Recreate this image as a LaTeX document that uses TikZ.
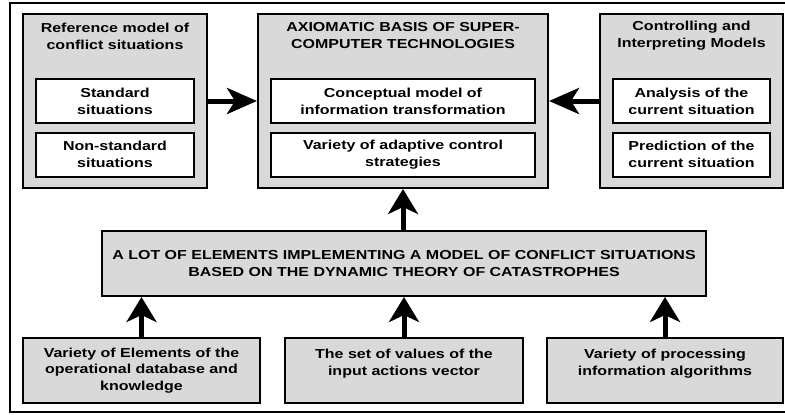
\documentclass[tikz,border=0pt]{standalone}
\usepackage{fontspec}
\setmainfont{Liberation Sans}[FakeStretch=1.23]
\usetikzlibrary{arrows.meta}

\begin{document}
\begin{tikzpicture}[x=1pt,y=1pt]
\tikzstyle{every node}+=[inner sep=0pt, align=center, font=\fontsize{13}{17}\selectfont\bfseries]
\tikzstyle{group box}=[draw=black, line width=2pt, fill=black!15]
\tikzstyle{item box}=[draw=black, line width=2pt, fill=white, minimum height=44pt]
\tikzstyle{base box}=[draw=black, line width=2pt, fill=black!15, minimum height=65pt]
\tikzstyle{harrow}=[black, line width=5pt, -{Stealth[length=30pt,width=26pt,inset=8pt]}]
\tikzstyle{varrow}=[black, line width=5pt, -{Stealth[length=25pt,width=30pt,inset=7pt]}]
\useasboundingbox (0,0) rectangle (785,-415);
\clip (0,0) rectangle (785,-415);
\draw [black, line width=2pt] (10,-3) rectangle (800,-412);
\node [group box, minimum width=184pt, minimum height=174pt] (refbox) at (115,-101) {};
\node (reftitle) at (115,-36) {Reference model of\\conflict situations};
\node [item box, minimum width=158pt] (standard) at (115,-101) {Standard\\situations};
\node [item box, minimum width=158pt] (nonstandard) at (115,-154.5) {Non-standard\\situations};
\node [group box, minimum width=290pt, minimum height=174pt] (axbox) at (403,-101) {};
\node (axtitle) at (403,-36) {AXIOMATIC BASIS OF SUPER-\\COMPUTER TECHNOLOGIES};
\node [item box, minimum width=264pt] (concept) at (403,-101) {Conceptual model of\\information transformation};
\node [item box, minimum width=264pt] (adaptive) at (403,-154.5) {Variety of adaptive control\\strategies};
\node [group box, minimum width=183pt, minimum height=174pt] (ctrlbox) at (691.5,-101) {};
\node (ctrltitle) at (691.5,-36) {Controlling and\\Interpreting Models};
\node [item box, minimum width=157pt] (analysis) at (691.5,-101) {Analysis of the\\current situation};
\node [item box, minimum width=157pt] (prediction) at (691.5,-154.5) {Prediction of the\\current situation};
\node [base box, minimum width=604pt] (elembox) at (404,-263.5) {A LOT OF ELEMENTS IMPLEMENTING A MODEL OF CONFLICT SITUATIONS\\BASED ON THE DYNAMIC THEORY OF CATASTROPHES};
\node [base box, minimum width=237pt, font=\fontsize{13}{16.5}\selectfont\bfseries] (dbbox) at (141.5,-370.5) {Variety of Elements of the\\operational database and\\knowledge};
\node [base box, minimum width=238pt, font=\fontsize{13}{16.5}\selectfont\bfseries] (inputbox) at (404,-370.5) {The set of values of the\\input actions vector\\~};
\node [base box, minimum width=236pt, font=\fontsize{13}{16.5}\selectfont\bfseries] (algbox) at (665,-370.5) {Variety of processing\\information algorithms\\~};
\draw [harrow] (refbox.east) -- (axbox.west);
\draw [harrow] (ctrlbox.west) -- (axbox.east);
\draw [varrow] (axbox.south |- elembox.north) -- (axbox.south);
\draw [varrow] (dbbox.north) -- (dbbox.north |- elembox.south);
\draw [varrow] (inputbox.north) -- (inputbox.north |- elembox.south);
\draw [varrow] (algbox.north) -- (algbox.north |- elembox.south);
\end{tikzpicture}
\end{document}
